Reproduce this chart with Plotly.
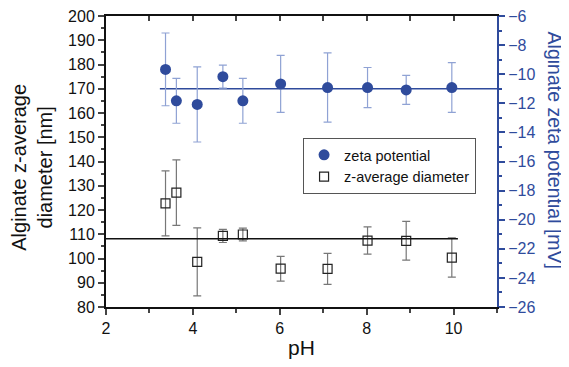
import plotly.graph_objects as go

# zeta potential data (mV)
zeta_ph = [3.37, 3.62, 4.10, 4.69, 5.15, 6.02, 7.10, 8.02, 8.91, 9.96]
zeta_val = [-9.67, -11.83, -12.08, -10.17, -11.83, -10.67, -10.92, -10.92, -11.08, -10.92]
zeta_err = [2.5, 1.54, 2.58, 0.79, 1.54, 1.96, 2.38, 1.38, 1.0, 1.71]
zeta_mean = -11.0
zeta_line_ph = [3.24, 11.0]

# z-average diameter data (nm)
diam_ph = [3.37, 3.62, 4.10, 4.69, 5.15, 6.02, 7.10, 8.02, 8.91, 9.96]
diam_val = [122.7, 127.2, 98.6, 109.3, 109.9, 95.8, 95.7, 107.4, 107.3, 100.4]
diam_err = [13.4, 13.5, 14.0, 2.7, 2.6, 5.1, 6.4, 5.6, 8.0, 8.1]
diam_mean = 108.1
diam_line_ph = [2.0, 10.1]

x_ticks = [2, 4, 6, 8, 10]

BLUE = "#2f4b9c"
FONT = "Liberation Sans, Arial, sans-serif"

fig = go.Figure()

fig.add_trace(go.Scatter(
    x=zeta_line_ph, y=[zeta_mean] * len(zeta_line_ph), yaxis="y2",
    mode="lines", line=dict(color=BLUE, width=1.5), showlegend=False, hoverinfo="skip"))
fig.add_trace(go.Scatter(
    x=diam_line_ph, y=[diam_mean] * len(diam_line_ph), xaxis="x2",
    mode="lines", line=dict(color="#111111", width=1.5), showlegend=False, hoverinfo="skip"))

fig.add_trace(go.Scatter(
    x=zeta_ph, y=zeta_val, yaxis="y2", mode="markers", name="zeta potential",
    marker=dict(symbol="circle", size=11, color=BLUE),
    error_y=dict(type="data", array=zeta_err, color="#8fa2d4", thickness=1.2, width=4)))
fig.add_trace(go.Scatter(
    x=diam_ph, y=diam_val, mode="markers", name="z-average diameter",
    marker=dict(symbol="square-open", size=9, color="#222222", line=dict(width=1.2)),
    error_y=dict(type="data", array=diam_err, color="#777777", thickness=1.2, width=4)))

fig.update_layout(
    width=561, height=359,
    margin=dict(l=98, r=72, t=8, b=60),
    paper_bgcolor="white", plot_bgcolor="white",
    font=dict(family=FONT, size=16, color="#111111"),
    xaxis=dict(range=[2, 11], tickvals=x_ticks, ticks="outside", ticklen=6,
               tickwidth=1.5, linecolor="#111111", linewidth=2, showgrid=False,
               zeroline=False, automargin=False,
               minor=dict(dtick=1, ticks="outside", ticklen=4, tickwidth=1.5),
               title=dict(text="pH", font=dict(size=21), standoff=4)),
    xaxis2=dict(range=[2, 11], overlaying="x", side="top", dtick=1,
                ticks="inside", ticklen=5, tickwidth=1.5, showticklabels=False,
                linecolor="#111111", linewidth=2, showline=True, showgrid=False,
                zeroline=False, automargin=False),
    yaxis=dict(range=[80, 200], dtick=10, ticks="outside", ticklen=6, tickwidth=1.5,
               linecolor="#111111", linewidth=2, showgrid=False, zeroline=False,
               automargin=False, ticklabeloverflow="allow",
               minor=dict(dtick=5, ticks="outside", ticklen=3, tickwidth=1.5)),
    yaxis2=dict(range=[-26, -6], dtick=2, overlaying="y", side="right", ticks="outside",
                ticklen=6, tickwidth=1.5, linecolor=BLUE, linewidth=2, showgrid=False,
                zeroline=False, tickcolor=BLUE, tickfont=dict(color=BLUE), automargin=False,
                ticklabeloverflow="allow",
                minor=dict(dtick=1, ticks="outside", ticklen=3, tickwidth=1.5, tickcolor=BLUE)),
    legend=dict(x=0.504, y=0.581, xanchor="left", yanchor="top", bordercolor="#555555",
                borderwidth=1, bgcolor="white", font=dict(size=14.5),
                tracegroupgap=0, itemwidth=30),
    annotations=[
        dict(text="Alginate z-average<br>diameter [nm]", textangle=-90, xref="paper", yref="paper",
             x=-0.19, y=0.481, xanchor="center", yanchor="middle", showarrow=False,
             font=dict(size=20, color="#111111")),
        dict(text="Alginate zeta potential [mV]", textangle=90, xref="paper", yref="paper",
             x=1.149, y=0.54, xanchor="center", yanchor="middle", showarrow=False,
             font=dict(size=19.5, color=BLUE)),
    ],
)

fig.write_html("out.html")
